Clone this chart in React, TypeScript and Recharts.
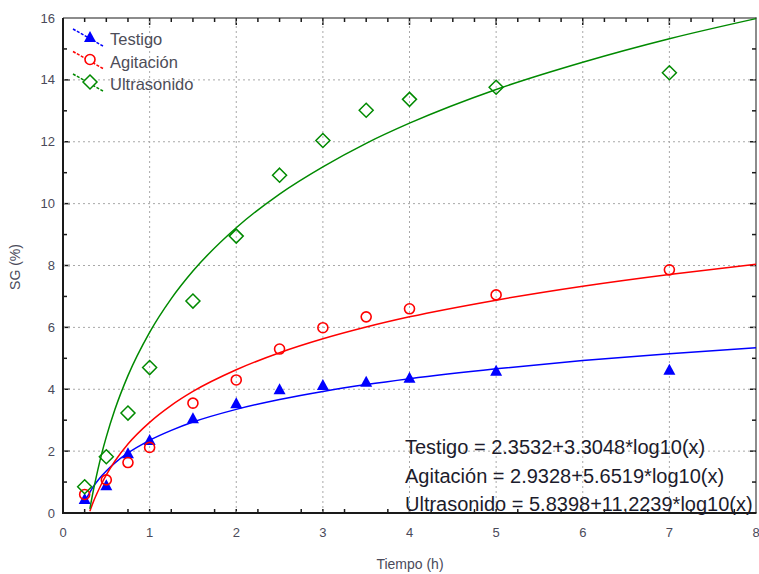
import React from 'react';
import { ComposedChart, XAxis, YAxis, Scatter, ReferenceLine, ReferenceArea } from 'recharts';

// ---- data ----
const timeH = [0.25, 0.5, 0.75, 1, 1.5, 2, 2.5, 3, 3.5, 4, 5, 7];
const testigo = [0.45, 0.9, 1.93, 2.36, 3.06, 3.55, 4.0, 4.14, 4.24, 4.37, 4.6, 4.63];
const agitacion = [0.6, 1.07, 1.63, 2.12, 3.55, 4.3, 5.3, 5.99, 6.34, 6.6, 7.05, 7.86];
const ultrasonido = [0.85, 1.82, 3.23, 4.7, 6.85, 8.95, 10.92, 12.04, 13.02, 13.37, 13.76, 14.23];

// fitted curves
const fitXTestigo = [0.27, 0.31, 0.35, 0.4, 0.45, 0.5, 0.6, 0.75, 1, 1.25, 1.5, 2, 2.5, 3, 3.5, 4, 5, 6, 7, 8];
const fitTestigo = [0.47, 0.67, 0.85, 1.04, 1.21, 1.36, 1.62, 1.94, 2.35, 2.67, 2.94, 3.35, 3.67, 3.93, 4.15, 4.34, 4.66, 4.93, 5.15, 5.34];
const fitXOther = [0.31, 0.35, 0.4, 0.45, 0.5, 0.6, 0.75, 1, 1.25, 1.5, 2, 2.5, 3, 3.5, 4, 5, 6, 7, 8];
const fitAgitacion = [0.06, 0.36, 0.68, 0.97, 1.23, 1.68, 2.23, 2.93, 3.48, 3.93, 4.63, 5.18, 5.63, 6.01, 6.34, 6.88, 7.33, 7.71, 8.04];
const fitUltrasonido = [0.13, 0.72, 1.37, 1.95, 2.46, 3.35, 4.44, 5.84, 6.93, 7.82, 9.22, 10.31, 11.19, 11.95, 12.6, 13.69, 14.57, 15.33, 15.98];

const seriesNames = ['Testigo', 'Agitación', 'Ultrasonido'];
const equations = [
  'Testigo = 2.3532+3.3048*log10(x)',
  'Agitación = 2.9328+5.6519*log10(x)',
  'Ultrasonido = 5.8398+11,2239*log10(x)',
];
const xLabels = [0, 1, 2, 3, 4, 5, 6, 7, 8];
const yLabels = [0, 2, 4, 6, 8, 10, 12, 14, 16];
const xGrid = [1, 2, 3, 4, 5, 6, 7];
const yGrid = [2, 4, 6, 8, 10, 12, 14];
const xQuarterTicks = Array.from({ length: 31 }, (_, i) => (i + 1) / 4);
const xBottomTicks = xQuarterTicks.filter((v) => Number.isInteger(v) || (v * 4) % 2 === 1);
const yUnitTicks = Array.from({ length: 15 }, (_, i) => i + 1);

const X_MIN = 0;
const X_MAX = 8;
const Y_MIN = 0;
const Y_MAX = 16;
// pixel-to-unit factors, used only for tick/frame thickness
const PX_X = 8 / 693;
const PX_Y = 16 / 495;

const BLUE = '#0000ff';
const RED = '#ff0000';
const GREEN = '#008a00';
const FRAME = '#1a1a1a';
const TICK_TEXT = '#4a4a5a';
const FONT = '"Liberation Sans", Arial, sans-serif';

const zip = (xs: number[], ys: number[]) => xs.map((x, i) => ({ x, y: ys[i] }));
const testigoPts = zip(timeH, testigo);
const agitacionPts = zip(timeH, agitacion);
const ultrasonidoPts = zip(timeH, ultrasonido);
const testigoFit = zip(fitXTestigo, fitTestigo);
const agitacionFit = zip(fitXOther, fitAgitacion);
const ultrasonidoFit = zip(fitXOther, fitUltrasonido);

const Triangle = (p: any) => {
  const { cx, cy } = p;
  if (cx == null || cy == null) return <g />;
  return <polygon points={`${cx},${cy - 6} ${cx + 6},${cy + 5} ${cx - 6},${cy + 5}`} fill={BLUE} />;
};
const Circle = (p: any) => {
  const { cx, cy } = p;
  if (cx == null || cy == null) return <g />;
  return <circle cx={cx} cy={cy} r={5} fill="none" stroke={RED} strokeWidth={1.6} />;
};
const Diamond = (p: any) => {
  const { cx, cy } = p;
  if (cx == null || cy == null) return <g />;
  return (
    <polygon
      points={`${cx},${cy - 7} ${cx + 7},${cy} ${cx},${cy + 7} ${cx - 7},${cy}`}
      fill="none"
      stroke={GREEN}
      strokeWidth={1.5}
    />
  );
};
const NoDot = () => <g />;

const legendRows = [
  { name: seriesNames[0], color: BLUE, marker: 'tri' },
  { name: seriesNames[1], color: RED, marker: 'circ' },
  { name: seriesNames[2], color: GREEN, marker: 'dia' },
];

const tickFont = { fontSize: 13, fill: TICK_TEXT, fontFamily: FONT };

const area = (key: string, x1: number, x2: number, y1: number, y2: number) => (
  <ReferenceArea
    key={key}
    x1={x1}
    x2={x2}
    y1={y1}
    y2={y2}
    fill={FRAME}
    fillOpacity={1}
    stroke="none"
    ifOverflow="visible"
  />
);

export default function App() {
  const marks: React.ReactNode[] = [];
  // frame (filled thin bands)
  marks.push(area('fl', X_MIN - 1 * PX_X, X_MIN + 1 * PX_X, Y_MIN - 1 * PX_Y, Y_MAX));
  marks.push(area('fb', X_MIN - 1 * PX_X, X_MAX + 0.5 * PX_X, Y_MIN - 1 * PX_Y, Y_MIN + 1 * PX_Y));
  marks.push(area('fr', X_MAX - 0.5 * PX_X, X_MAX + 0.5 * PX_X, Y_MIN, Y_MAX + 0.5 * PX_Y));
  marks.push(area('ft', X_MIN, X_MAX + 0.5 * PX_X, Y_MAX - 0.5 * PX_Y, Y_MAX + 0.5 * PX_Y));
  // left / right ticks
  yUnitTicks.forEach((v) => {
    const major = v % 2 === 0;
    marks.push(area('tl' + v, X_MIN, X_MIN + (major ? 7 : 4) * PX_X, v - 0.75 * PX_Y, v + 0.75 * PX_Y));
    marks.push(area('tr' + v, X_MAX - (major ? 6 : 4) * PX_X, X_MAX, v - 0.75 * PX_Y, v + 0.75 * PX_Y));
  });
  // top ticks
  xQuarterTicks.forEach((v) => {
    const major = Number.isInteger(v);
    marks.push(area('tt' + v, v - 0.75 * PX_X, v + 0.75 * PX_X, Y_MAX - (major ? 7 : 4) * PX_Y, Y_MAX));
  });
  // bottom ticks
  xBottomTicks.forEach((v) => {
    marks.push(area('tb' + v, v - 0.75 * PX_X, v + 0.75 * PX_X, Y_MIN, Y_MIN + 4 * PX_Y));
  });

  return (
    <div style={{ position: 'absolute', left: 0, top: 0, width: 759, height: 574, background: '#fff' }}>
      <ComposedChart width={759} height={574} margin={{ top: 18, right: 3, bottom: 0, left: 0 }}>
        <XAxis
          dataKey="x"
          type="number"
          domain={[X_MIN, X_MAX]}
          ticks={xLabels}
          interval={0}
          height={61}
          tickSize={0}
          tickMargin={15}
          tick={tickFont}
          tickLine={false}
          axisLine={{ stroke: FRAME, strokeWidth: 2 }}
        />
        <YAxis
          type="number"
          domain={[Y_MIN, Y_MAX]}
          ticks={yLabels}
          interval={0}
          width={63}
          tickSize={0}
          tickMargin={8}
          tick={tickFont}
          tickLine={false}
          axisLine={{ stroke: FRAME, strokeWidth: 2 }}
        />
        {xGrid.map((v) => (
          <ReferenceLine key={'gx' + v} x={v} stroke="#a8a8a8" strokeDasharray="2 3" strokeWidth={1} />
        ))}
        {yGrid.map((v) => (
          <ReferenceLine key={'gy' + v} y={v} stroke="#a8a8a8" strokeDasharray="2 3" strokeWidth={1} />
        ))}
        {marks}
        <Scatter
          data={testigoFit}
          dataKey="y"
          line={{ stroke: BLUE, strokeWidth: 1.5 }}
          lineJointType="monotoneX"
          shape={<NoDot />}
          isAnimationActive={false}
        />
        <Scatter
          data={agitacionFit}
          dataKey="y"
          line={{ stroke: RED, strokeWidth: 1.5 }}
          lineJointType="monotoneX"
          shape={<NoDot />}
          isAnimationActive={false}
        />
        <Scatter
          data={ultrasonidoFit}
          dataKey="y"
          line={{ stroke: GREEN, strokeWidth: 1.5 }}
          lineJointType="monotoneX"
          shape={<NoDot />}
          isAnimationActive={false}
        />
        <Scatter name={seriesNames[0]} data={testigoPts} dataKey="y" shape={<Triangle />} isAnimationActive={false} />
        <Scatter name={seriesNames[1]} data={agitacionPts} dataKey="y" shape={<Circle />} isAnimationActive={false} />
        <Scatter name={seriesNames[2]} data={ultrasonidoPts} dataKey="y" shape={<Diamond />} isAnimationActive={false} />
      </ComposedChart>
      <svg width={759} height={574} style={{ position: 'absolute', left: 0, top: 0, pointerEvents: 'none' }}>
        <g transform="translate(60,20)">
          {legendRows.map((r, i) => {
            const oy = i * 22.5;
            const mx = 30;
            const my = 17 + oy;
            return (
              <g key={r.name}>
                <line x1={13} y1={9 + oy} x2={43} y2={26 + oy} stroke={r.color} strokeWidth={1.5} strokeDasharray="3 1.5" />
                {r.marker === 'tri' && (
                  <polygon points={`${mx},${my - 6} ${mx + 6},${my + 5} ${mx - 6},${my + 5}`} fill={BLUE} />
                )}
                {r.marker === 'circ' && <circle cx={mx} cy={my} r={5} fill="#fff" stroke={RED} strokeWidth={1.6} />}
                {r.marker === 'dia' && (
                  <polygon
                    points={`${mx},${my - 7} ${mx + 7},${my} ${mx},${my + 7} ${mx - 7},${my}`}
                    fill="#fff"
                    stroke={GREEN}
                    strokeWidth={1.5}
                  />
                )}
                <text x={50} y={25 + oy} fontFamily={FONT} fontSize={16.5} fill="#4d4d58">
                  {r.name}
                </text>
              </g>
            );
          })}
        </g>
        {equations.map((eq, i) => (
          <text key={eq} x={405} y={454 + i * 28.5} fontFamily={FONT} fontSize={20} fill="#1c1c2c">
            {eq}
          </text>
        ))}
        <text x={410} y={569} textAnchor="middle" fontFamily={FONT} fontSize={14} fill={TICK_TEXT}>
          Tiempo (h)
        </text>
        <text
          x={0}
          y={0}
          transform="translate(20,267) rotate(-90)"
          textAnchor="middle"
          fontFamily={FONT}
          fontSize={14}
          fill={TICK_TEXT}
        >
          SG (%)
        </text>
      </svg>
    </div>
  );
}
